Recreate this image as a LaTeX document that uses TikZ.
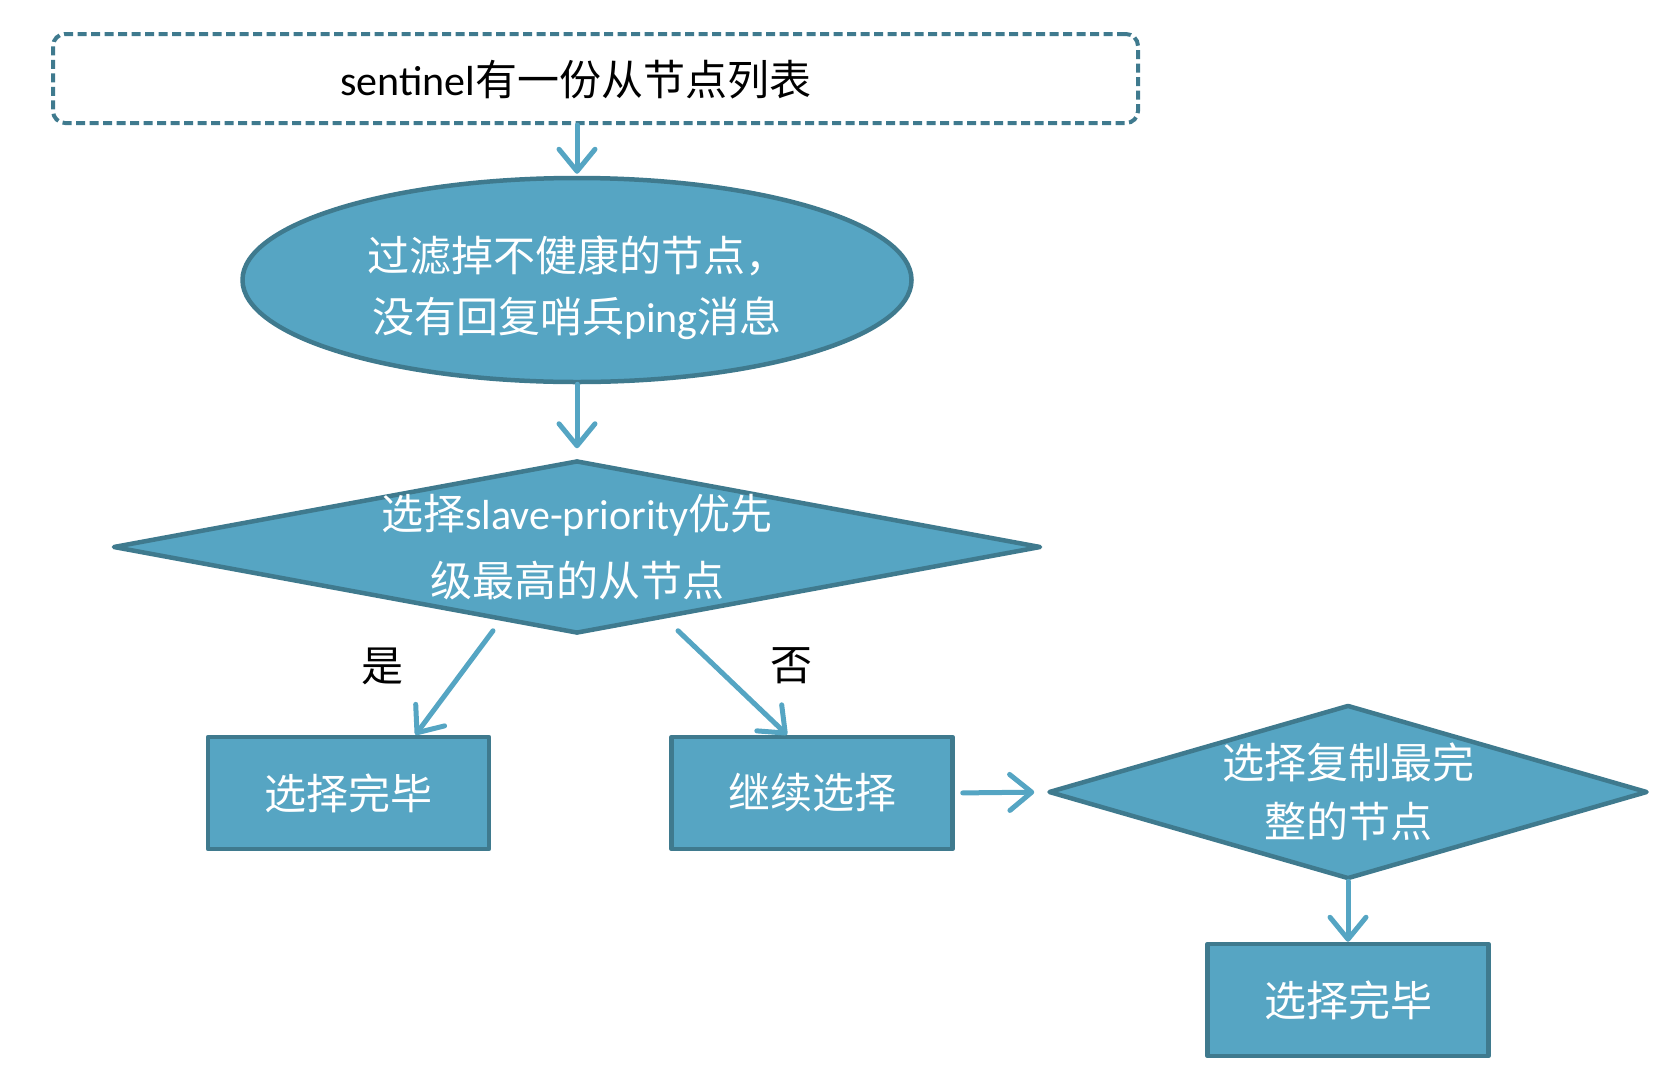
\documentclass[tikz,border=0pt]{standalone}
\usepackage{fontspec}
\setmainfont{Carlito}
\newfontfamily\cjk{Noto Sans CJK SC}
\newfontfamily\lat{Carlito}
\usetikzlibrary{shapes.geometric,arrows.meta}
\definecolor{fillc}{HTML}{56A5C3}
\definecolor{edgec}{HTML}{3F7A8E}
\definecolor{arrc}{HTML}{55A5C3}
\begin{document}
\begin{tikzpicture}[x=1pt,y=-1pt,
  shapebox/.style={draw=edgec, line width=4.5pt, line join=round, fill=fillc, inner sep=0pt},
  boxtext/.style={text=white, font=\cjk\fontsize{42}{61}\selectfont, align=center, inner sep=0pt},
  dashbox/.style={draw=edgec, line width=4pt, dash pattern=on 9pt off 4.5pt,
    rounded corners=12pt, inner sep=0pt},
  plaintext/.style={text=black, font=\cjk\fontsize{42}{50}\selectfont, inner sep=0pt},
  conn/.style={draw=arrc, line width=5pt, line cap=round,
    -{Straight Barb[length=22pt,width=36pt,line width=5pt,round]}}
]
\useasboundingbox (0,0) rectangle (1672,1074);

\node[dashbox, minimum width=1085pt, minimum height=89pt] (list) at (595.5,78.5) {};
\node[plaintext] (listtext) at (576,80) {{\lat sentinel}有一份从节点列表};

\node[shapebox, ellipse, minimum width=669pt, minimum height=204pt] (filter) at (577,280) {};
\node[boxtext] (filtertext) at (577,288)
  {过滤掉不健康的节点，\\没有回复哨兵{\lat ping}消息};

\node[shapebox, diamond, aspect=5.364, minimum width=928pt, minimum height=173pt] (prio) at (577,547) {};
\node[boxtext, font=\cjk\fontsize{42}{67}\selectfont] (priotext) at (577,547)
  {选择{\lat slave-priority}优先\\级最高的从节点};

\node[shapebox, rectangle, minimum width=281pt, minimum height=112pt] (done1) at (348.5,793) {};
\node[boxtext] (done1text) at (348.5,793) {选择完毕};
\node[shapebox, rectangle, minimum width=281pt, minimum height=112pt] (cont) at (812,793) {};
\node[boxtext] (conttext) at (812,793) {继续选择};

\node[shapebox, diamond, aspect=3.443, minimum width=599pt, minimum height=174pt] (best) at (1348,792) {};
\node[boxtext, font=\cjk\fontsize{42}{59}\selectfont] (besttext) at (1348,792)
  {选择复制最完\\整的节点};

\node[shapebox, rectangle, minimum width=281pt, minimum height=112pt] (done2) at (1348,1000) {};
\node[boxtext] (done2text) at (1348,1000) {选择完毕};

\node[plaintext] (yes) at (382,666) {是};
\node[plaintext] (no) at (791,666) {否};

\draw[conn, shorten >=2pt] (list.south -| filter.north) -- (filter.north);
\draw[conn, shorten >=10pt] (filter.south) -- (prio.north);
\draw[conn] ([xshift=-84pt,yshift=5pt]prio.south) -- ([xshift=67pt]done1.north);
\draw[conn] ([xshift=101pt,yshift=5pt]prio.south) -- ([xshift=-25pt]cont.north);
\draw[conn, shorten <=8pt, shorten >=12pt] (cont.east) -- (best.west);
\draw[conn] (best.south) -- (done2.north);
\end{tikzpicture}
\end{document}
